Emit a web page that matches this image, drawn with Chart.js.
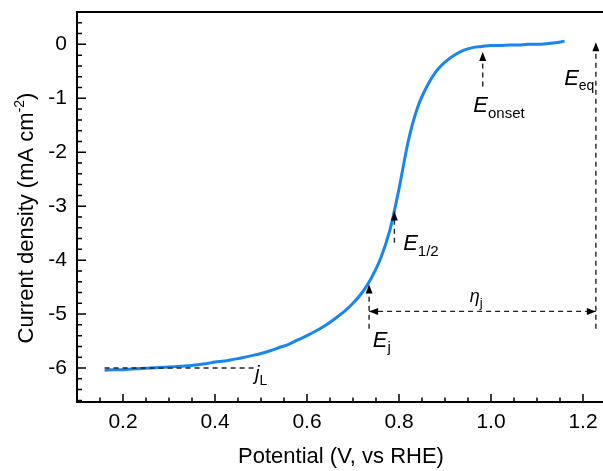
<!DOCTYPE html>
<html>
<head>
<meta charset="utf-8">
<script src="https://cdn.jsdelivr.net/npm/chart.js@4.4.0/dist/chart.umd.min.js"></script>
<style>
  html, body { margin: 0; padding: 0; background: #fff; }
  canvas { display: block; }
</style>
</head>
<body>
<canvas id="lsvChart" width="603" height="471"></canvas>
<script>
// LSV curve (ORR), potential in V vs RHE, current density in mA cm-2
const potential = [0.16, 0.18, 0.20, 0.22, 0.24, 0.26, 0.28, 0.30, 0.32, 0.34,
    0.36, 0.38, 0.40, 0.42, 0.44, 0.46, 0.48, 0.50, 0.52, 0.54,
    0.56, 0.58, 0.60, 0.62, 0.64, 0.66, 0.68, 0.70, 0.72, 0.74,
    0.76, 0.78, 0.80, 0.82, 0.84, 0.86, 0.88, 0.90, 0.92, 0.94,
    0.96, 0.98, 1.00, 1.02, 1.04, 1.06, 1.08, 1.10, 1.12, 1.14, 1.16];
const current = [-6.04, -6.03, -6.03, -6.02, -6.01, -6.00, -5.99, -5.98, -5.97, -5.96,
    -5.94, -5.92, -5.89, -5.87, -5.84, -5.81, -5.77, -5.73, -5.68, -5.62,
    -5.56, -5.48, -5.40, -5.31, -5.21, -5.09, -4.96, -4.80, -4.60, -4.33,
    -3.97, -3.45, -2.68, -1.80, -1.18, -0.79, -0.51, -0.33, -0.20, -0.11,
    -0.06, -0.04, -0.02, -0.02, -0.01, -0.01, 0.00, 0.00, 0.01, 0.03, 0.06];

const xTicks = [0.2, 0.4, 0.6, 0.8, 1.0, 1.2];
const yTicks = [0, -1, -2, -3, -4, -5, -6];

// characteristic values marked on the curve
const eOnset = 0.982;
const eHalf = 0.79;
const eJ = 0.735;
const eEq = 1.228;
const jLimit = -6.0;
const etaLevel = -4.95;

const FONT = '"Liberation Sans", Arial, sans-serif';

// dashed guide lines [x1, y1, x2, y2]
const guides = [
    [0.16, jLimit, 0.485, jLimit],
    [eJ, -5.27, eJ, -4.45],
    [eJ, etaLevel, eEq, etaLevel],
    [eEq, -5.27, eEq, 0.04],
    [eOnset, -0.78, eOnset, -0.14],
    [eHalf, -3.68, eHalf, -3.1]
];

// arrow tips: x, y, direction
const arrows = [
    [eJ, -4.45, 'up'],
    [eJ, etaLevel, 'left'],
    [eEq, etaLevel, 'right'],
    [eEq, 0.04, 'up'],
    [eOnset, -0.14, 'up'],
    [eHalf, -3.1, 'up']
];

// labels: main text, subscript, x, y (baseline), main size, sub size, sub shift
const notes = [
    ['E', 'onset', 0.9615, -1.26, 22, 15, 6],
    ['E', 'eq', 1.159, -0.76, 22, 14, 5],
    ['E', '1/2', 0.809, -3.81, 22, 15, 6],
    ['E', 'j', 0.743, -5.61, 22, 15, 5],
    ['\u03b7', 'j', 0.954, -4.78, 18, 13, 5],
    ['j', 'L', 0.487, -6.22, 20, 14, 5]
];

const guideSets = guides.map(g => ({
    data: [{ x: g[0], y: g[1] }, { x: g[2], y: g[3] }],
    showLine: true,
    borderColor: '#222',
    borderWidth: 1.4,
    borderDash: [5, 4],
    pointRadius: 0,
    fill: false
}));

const curveSet = {
    data: potential.map((p, i) => ({ x: p, y: current[i] })),
    showLine: true,
    borderColor: '#1a86ec',
    borderWidth: 3,
    pointRadius: 0,
    cubicInterpolationMode: 'monotone',
    fill: false
};

const decorations = {
    id: 'decorations',
    afterDatasetsDraw(chart) {
        const { ctx, chartArea } = chart;
        const xs = chart.scales.x, ys = chart.scales.y;
        ctx.save();
        ctx.strokeStyle = '#000';
        ctx.fillStyle = '#000';

        // top frame line
        ctx.lineWidth = 2;
        ctx.beginPath();
        ctx.moveTo(chartArea.left, chartArea.top);
        ctx.lineTo(chartArea.right, chartArea.top);
        ctx.stroke();

        // inward ticks
        ctx.lineWidth = 1.5;
        ctx.beginPath();
        for (let k = 3; k <= 25; k++) {
            const v = k * 0.05;
            const px = xs.getPixelForValue(v);
            const len = (k % 4 === 0) ? 8 : 4.5;
            ctx.moveTo(px, chartArea.bottom);
            ctx.lineTo(px, chartArea.bottom - len);
        }
        for (let k = -33; k <= 3; k++) {
            const v = k * 0.2;
            const py = ys.getPixelForValue(v);
            const len = (k % 5 === 0) ? 9 : 5;
            ctx.moveTo(chartArea.left, py);
            ctx.lineTo(chartArea.left + len, py);
        }
        ctx.stroke();

        // arrow heads
        arrows.forEach(a => {
            const px = xs.getPixelForValue(a[0]);
            const py = ys.getPixelForValue(a[1]);
            const L = 9, W = 3.5;
            ctx.beginPath();
            if (a[2] === 'up') {
                ctx.moveTo(px, py);
                ctx.lineTo(px - W, py + L);
                ctx.lineTo(px + W, py + L);
            } else if (a[2] === 'left') {
                ctx.moveTo(px, py);
                ctx.lineTo(px + L, py - W);
                ctx.lineTo(px + L, py + W);
            } else {
                ctx.moveTo(px, py);
                ctx.lineTo(px - L, py - W);
                ctx.lineTo(px - L, py + W);
            }
            ctx.closePath();
            ctx.fill();
        });

        // symbol labels with subscripts
        ctx.textBaseline = 'alphabetic';
        ctx.textAlign = 'left';
        notes.forEach(n => {
            const px = xs.getPixelForValue(n[2]);
            const py = ys.getPixelForValue(n[3]);
            ctx.font = 'italic ' + n[4] + 'px ' + FONT;
            ctx.fillText(n[0], px, py);
            const w = ctx.measureText(n[0]).width;
            ctx.font = n[5] + 'px ' + FONT;
            ctx.fillText(n[1], px + w, py + n[6]);
        });

        // axis titles
        ctx.font = '22px ' + FONT;
        ctx.textAlign = 'center';
        ctx.fillText('Potential (V, vs RHE)', (chartArea.left + chartArea.right) / 2 + 1, 463);

        const head = 'Current density (mA cm';
        const sup = '-2';
        const tail = ')';
        ctx.font = '22px ' + FONT;
        const wHead = ctx.measureText(head).width;
        const wTail = ctx.measureText(tail).width;
        ctx.font = '14px ' + FONT;
        const wSup = ctx.measureText(sup).width;
        const total = wHead + wSup + wTail;
        ctx.translate(33, 218);
        ctx.rotate(-Math.PI / 2);
        ctx.textAlign = 'left';
        let x0 = -total / 2;
        ctx.font = '22px ' + FONT;
        ctx.fillText(head, x0, 0);
        ctx.font = '14px ' + FONT;
        ctx.fillText(sup, x0 + wHead, -9);
        ctx.font = '22px ' + FONT;
        ctx.fillText(tail, x0 + wHead + wSup, 0);
        ctx.restore();
    }
};

const ctx = document.getElementById('lsvChart').getContext('2d');
const lsvChart = new Chart(ctx, {
    type: 'scatter',
    data: { datasets: [...guideSets, curveSet] },
    options: {
        responsive: false,
        animation: false,
        devicePixelRatio: 1,
        layout: { padding: { top: 12, left: 0, right: 0, bottom: 0 } },
        plugins: {
            legend: { display: false },
            tooltip: { enabled: false }
        },
        scales: {
            x: {
                type: 'linear',
                min: 0.1,
                max: 1.2435,
                grid: { display: false, drawTicks: false },
                border: { display: true, color: '#000', width: 2 },
                ticks: {
                    color: '#000',
                    font: { family: FONT, size: 21 },
                    padding: 8,
                    maxRotation: 0,
                    autoSkip: false,
                    callback: v => v.toFixed(1)
                },
                afterBuildTicks: s => { s.ticks = xTicks.map(v => ({ value: v })); },
                afterFit: s => { s.height = 69; s.paddingLeft = 0; s.paddingRight = 0; }
            },
            y: {
                type: 'linear',
                min: -6.63,
                max: 0.6,
                grid: { display: false, drawTicks: false },
                border: { display: true, color: '#000', width: 2 },
                ticks: {
                    color: '#000',
                    font: { family: FONT, size: 21 },
                    padding: 10,
                    autoSkip: false,
                    callback: v => String(v)
                },
                afterBuildTicks: s => { s.ticks = yTicks.map(v => ({ value: v })); },
                afterFit: s => { s.width = 77; s.paddingTop = 0; s.paddingBottom = 0; }
            }
        }
    },
    plugins: [decorations]
});
</script>
</body>
</html>
